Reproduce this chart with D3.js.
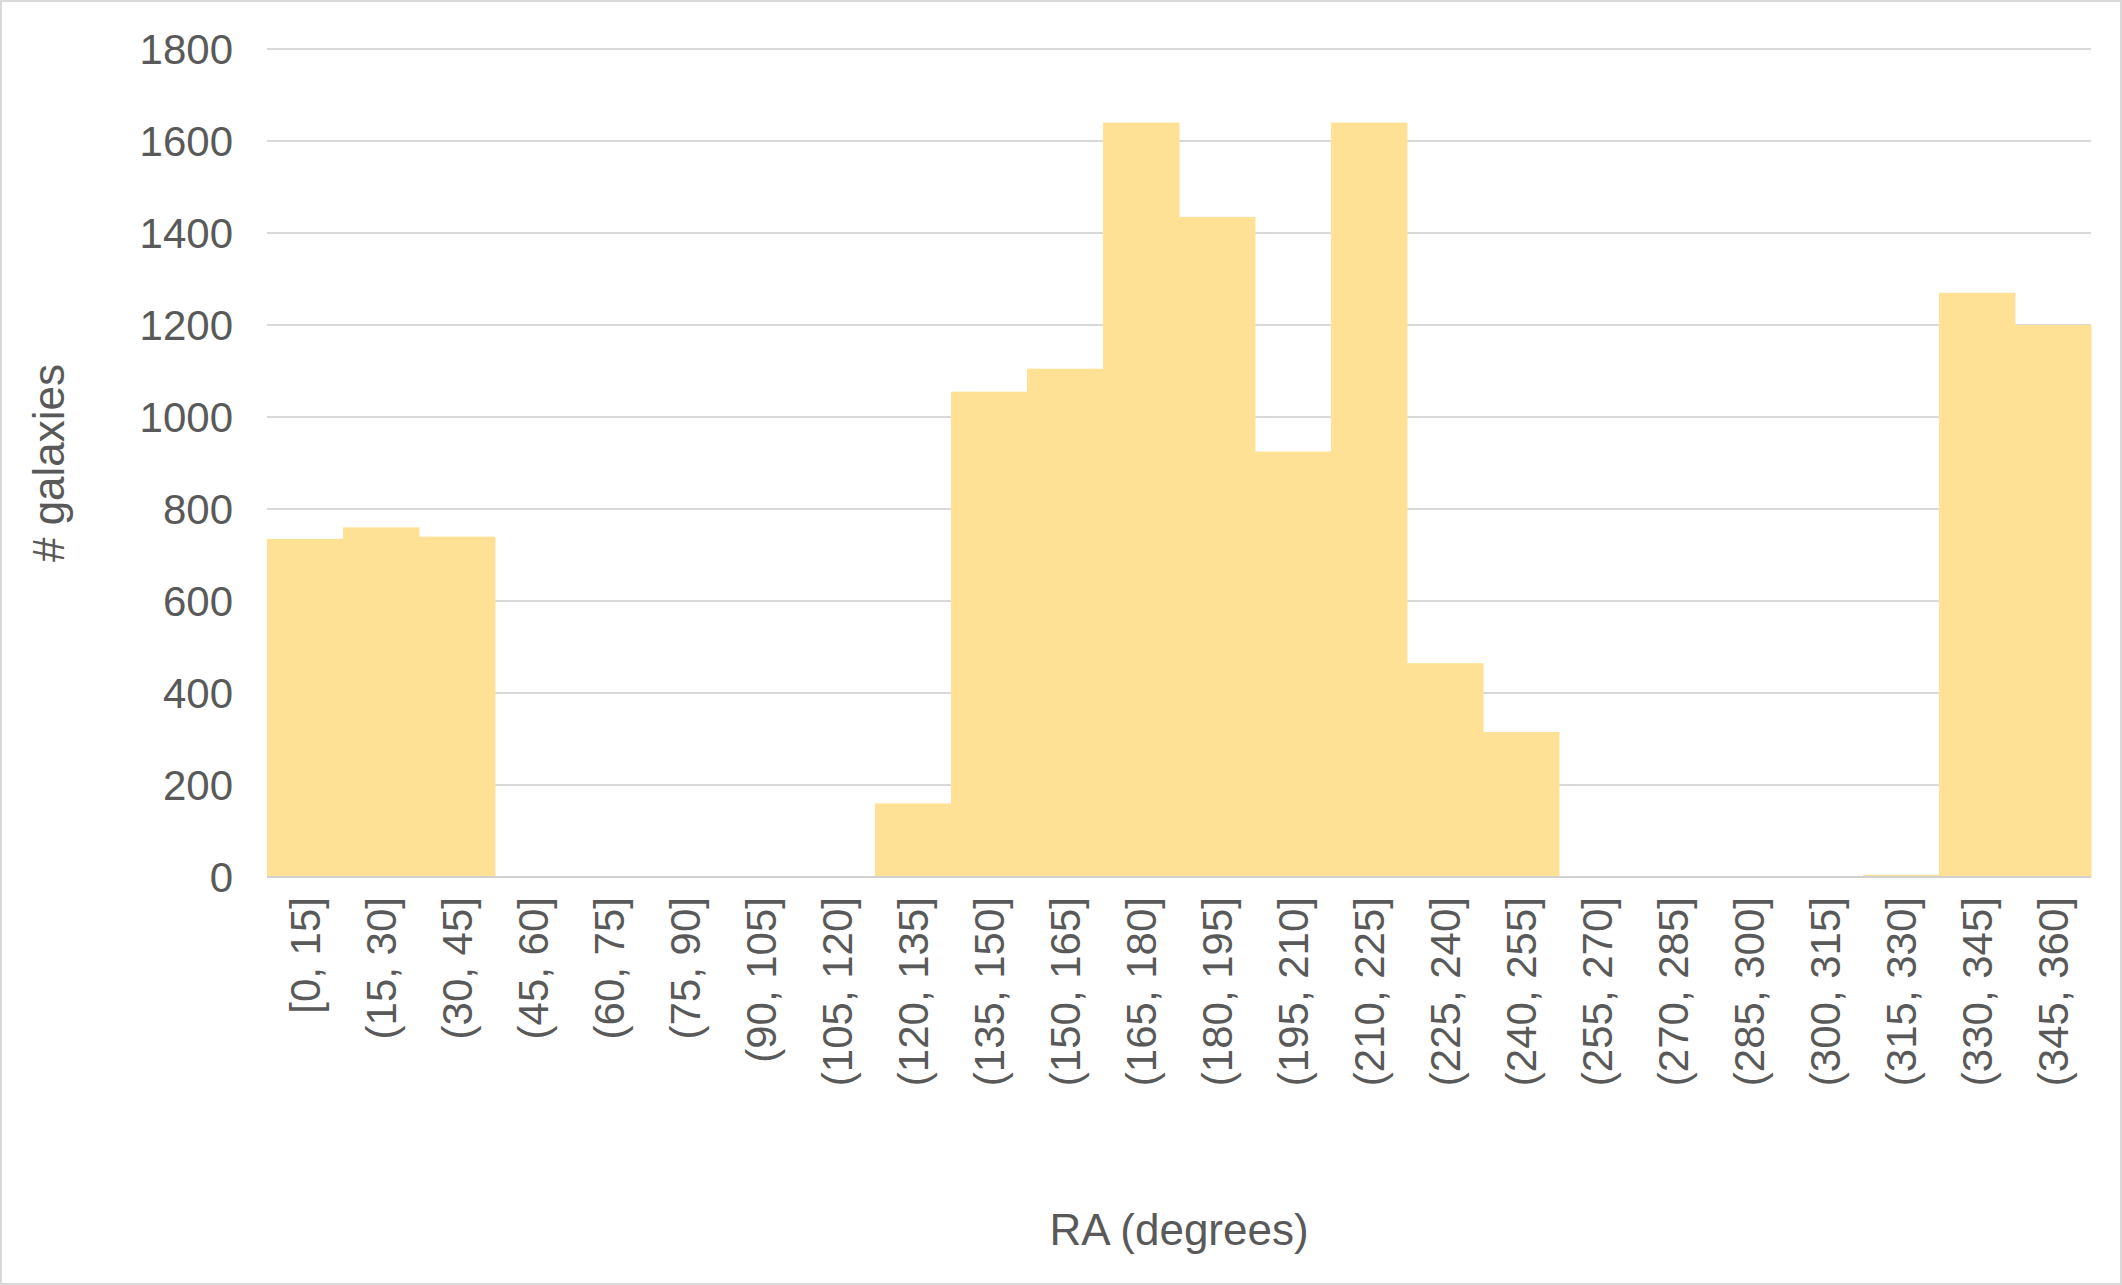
<!DOCTYPE html>
<html>
<head>
<meta charset="utf-8">
<script src="https://cdn.jsdelivr.net/npm/d3@7"></script>
<style>
	body { margin: 0; background: #fff; }
	svg text { font-family: "Liberation Sans", Arial, sans-serif; fill: #595959; }
</style>
</head>
<body>
<svg id="chart" width="2122" height="1285"></svg>
<script>
	"use strict";

	var bins = ["[0, 15]", "(15, 30]", "(30, 45]", "(45, 60]", "(60, 75]", "(75, 90]",
		"(90, 105]", "(105, 120]", "(120, 135]", "(135, 150]", "(150, 165]", "(165, 180]",
		"(180, 195]", "(195, 210]", "(210, 225]", "(225, 240]", "(240, 255]", "(255, 270]",
		"(270, 285]", "(285, 300]", "(300, 315]", "(315, 330]", "(330, 345]", "(345, 360]"];
	var counts = [735, 760, 740, 0, 0, 0, 0, 0, 160, 1055, 1105, 1640,
		1435, 925, 1640, 465, 315, 0, 0, 0, 0, 5, 1270, 1200];
	var yTicks = [0, 200, 400, 600, 800, 1000, 1200, 1400, 1600, 1800];

	var svg = d3.select("#chart");
	var plotLeft = 267, plotRight = 2091, plotTop = 49, plotBottom = 877;

	svg.append("rect")
		.attr("x", 1).attr("y", 1).attr("width", 2120).attr("height", 1283)
		.attr("fill", "none").attr("stroke", "#d9d9d9").attr("stroke-width", 2);

	var x = d3.scaleBand().domain(bins).range([plotLeft, plotRight]).padding(0);
	var y = d3.scaleLinear().domain([0, 1800]).range([plotBottom, plotTop]);

	// gridlines
	svg.append("g").selectAll("line").data(yTicks).join("line")
		.attr("x1", plotLeft).attr("x2", plotRight)
		.attr("y1", function (d) { return y(d); })
		.attr("y2", function (d) { return y(d); })
		.attr("stroke", "#d9d9d9").attr("stroke-width", 2);

	svg.append("g").selectAll("rect").data(counts).join("rect")
		.attr("x", function (d, i) { return x(bins[i]); })
		.attr("width", x.bandwidth() + 0.5)
		.attr("y", function (d) { return y(d); })
		.attr("height", function (d) { return plotBottom - y(d); })
		.attr("fill", "#ffe196");

	svg.append("line")
		.attr("x1", plotLeft).attr("x2", plotRight).attr("y1", plotBottom).attr("y2", plotBottom)
		.attr("stroke", "#d0d0d0").attr("stroke-width", 2);

	svg.append("g").selectAll("text").data(yTicks).join("text")
		.attr("x", 233)
		.attr("y", function (d) { return y(d); })
		.attr("dy", "0.35em")
		.attr("text-anchor", "end")
		.attr("font-size", 42)
		.text(function (d) { return d; });

	svg.append("g").selectAll("text").data(bins).join("text")
		.attr("transform", function (d) {
			return "translate(" + (x(d) + x.bandwidth() / 2) + "," + (plotBottom + 20) + ") rotate(-90)";
		})
		.attr("dy", "0.35em")
		.attr("text-anchor", "end")
		.attr("font-size", 42)
		.text(function (d) { return d; });

	svg.append("text")
		.attr("x", (plotLeft + plotRight) / 2).attr("y", 1245)
		.attr("text-anchor", "middle")
		.attr("font-size", 44)
		.text("RA (degrees)");

	svg.append("text")
		.attr("transform", "translate(64,463) rotate(-90)")
		.attr("text-anchor", "middle")
		.attr("font-size", 44)
		.text("# galaxies");
</script>
</body>
</html>
